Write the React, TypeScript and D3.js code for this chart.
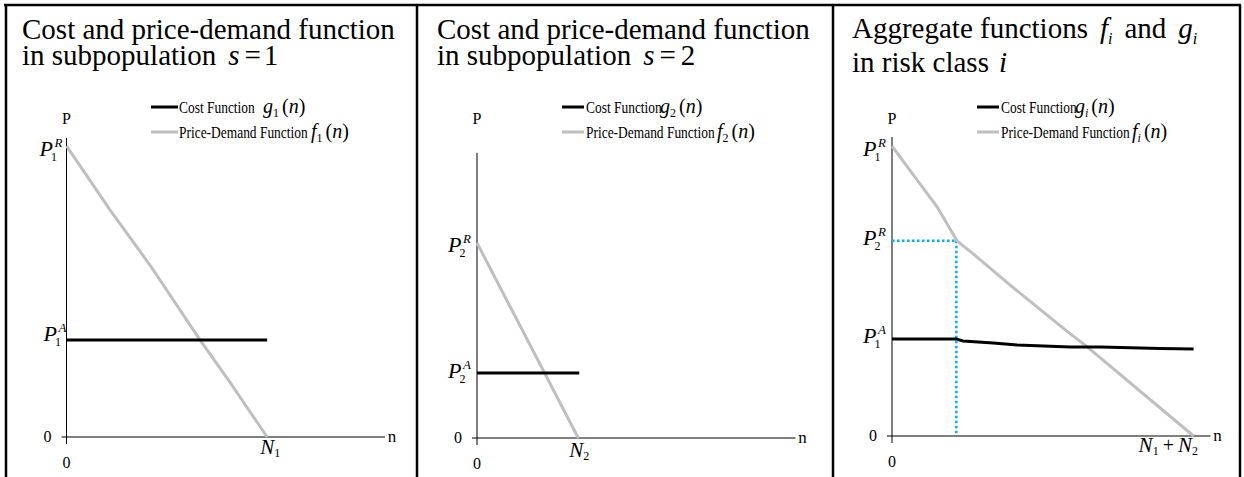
import React from 'react';
import * as d3 from 'd3';

const serif = "'Liberation Serif', 'Times New Roman', serif";

const legendNames = ['Cost Function', 'Price-Demand Function'];

// subpopulation s = 1 (n and price in % of the axis)
const demand1N = [0, 13.7, 26.2, 41.9, 51.3, 63];
const demand1P = [98, 76.4, 57.9, 32.7, 18.5, 0];
const cost1N = [0, 63];
const cost1P = [32.7, 32.7];

// subpopulation s = 2
const demand2N = [0, 31.8];
const demand2P = [65.7, 0];
const cost2N = [0, 32.1];
const cost2P = [21.9, 21.9];

// aggregate risk class i
const demandAggN = [0, 14.2, 20.4, 25.5, 37.1, 55.3, 61.3, 94.7];
const demandAggP = [97.6, 77.1, 65.7, 61.3, 50.8, 35.0, 30.0, 0];
const costAggN = [0, 20.1, 22.3, 31.8, 39.3, 56.0, 65.4, 84.3, 94.7];
const costAggP = [32.7, 32.7, 32.0, 31.3, 30.6, 30.0, 30.0, 29.5, 29.3];
const kinkN = 20.2;
const kinkP = 65.7;

const zip = (xs: number[], ys: number[]) => xs.map((x, i) => [x, ys[i]] as [number, number]);

// P with subscript and superscript, one text element
function PLabel({x, y, sub, sup}: any) {
  return (
    <text x={x} y={y} fontFamily={serif} fontSize={22}>
      <tspan fontStyle="italic">P</tspan>
      <tspan fontSize={12} dx={-2} dy={5}>{sub}</tspan>
      <tspan fontSize={13} fontStyle="italic" dx={-2.5} dy={-14}>{sup}</tspan>
    </text>
  );
}

function FnLabel({x, y, name, sub}: any) {
  return (
    <text x={x} y={y} fontFamily={serif} fontSize={20}>
      <tspan fontStyle="italic">{name}</tspan>
      <tspan fontSize={12} dy={4} fontStyle={sub === 'i' ? 'italic' : 'normal'}>{sub}</tspan>
      <tspan dy={-4} dx={3}>(</tspan>
      <tspan fontStyle="italic">n</tspan>
      <tspan>)</tspan>
    </text>
  );
}

function Panel({ox, oy, top, demand, cost, legend, labels, xLabel, children}: any) {
  const x = d3.scaleLinear().domain([0, 100]).range([ox, ox + 318.5]);
  const y = d3.scaleLinear().domain([0, 100]).range([oy, oy - 297]);
  const line = d3.line<[number, number]>().x(d => x(d[0])).y(d => y(d[1]));
  const fnSub = legend.sub;
  return (
    <g>
      {/* axes */}
      <line x1={x(0) - 5} x2={x(100)} y1={oy} y2={oy} stroke="#000" />
      <line x1={x(0)} x2={x(0)} y1={oy + 7} y2={y(top)} stroke="#000" />
      <text x={x(0)} y={124} textAnchor="middle" fontFamily={serif} fontSize={16}>P</text>
      <text x={x(100) + 7} y={oy + 5} textAnchor="middle" fontFamily={serif} fontSize={17}>n</text>
      <text x={x(0) - 19} y={oy + 5} textAnchor="middle" fontFamily={serif} fontSize={16}>0</text>
      <text x={x(0)} y={oy + 31} textAnchor="middle" fontFamily={serif} fontSize={16}>0</text>
      {children && children(x, y)}
      <path d={line(demand) || ''} fill="none" stroke="#bfbfbf" strokeWidth={3} />
      <path d={line(cost) || ''} fill="none" stroke="#000" strokeWidth={3} />
      {labels.map((l: any, i: number) => (
        <PLabel key={i} x={x(0) + l.dx} y={y(l.v) + l.dy} sub={l.sub} sup={l.sup} />
      ))}
      {xLabel(x, oy)}
      {/* legend */}
      <line x1={legend.sx} x2={legend.sx + legend.sw} y1={107} y2={107} stroke="#000" strokeWidth={3} />
      <line x1={legend.sx} x2={legend.sx + legend.sw} y1={132} y2={132} stroke="#bfbfbf" strokeWidth={3} />
      <text transform={`translate(${legend.tx},113) scale(0.84,1)`} fontFamily={serif} fontSize={16}>{legendNames[0]}</text>
      <text transform={`translate(${legend.tx},138) scale(0.84,1)`} fontFamily={serif} fontSize={16}>{legendNames[1]}</text>
      <FnLabel x={legend.gx} y={113} name="g" sub={fnSub} />
      <FnLabel x={legend.fx} y={138} name="f" sub={fnSub} />
    </g>
  );
}

export default function App() {
  return (
    <svg width={1244} height={477} style={{position: 'absolute', left: 0, top: 0, background: '#fff'}}>
      {/* frame */}
      <g stroke="#000" strokeWidth={2.5}>
        <line x1={4} x2={1241} y1={5} y2={5} />
        <line x1={6} x2={6} y1={5} y2={477} />
        <line x1={417} x2={417} y1={5} y2={477} />
        <line x1={833} x2={833} y1={5} y2={477} />
        <line x1={1240} x2={1240} y1={5} y2={477} />
      </g>

      {/* titles */}
      <g fontFamily={serif} fontSize={29}>
        <text x={22} y={39}>Cost and price-demand function</text>
        <text x={22} y={65}>in subpopulation<tspan dx={12} fontStyle="italic">s</tspan><tspan dx={5}>=</tspan><tspan dx={3}>1</tspan></text>
        <text x={437} y={39}>Cost and price-demand function</text>
        <text x={437} y={65}>in subpopulation<tspan dx={12} fontStyle="italic">s</tspan><tspan dx={5}>=</tspan><tspan dx={5}>2</tspan></text>
        <text x={852} y={38}>Aggregate functions<tspan dx={12} fontStyle="italic">f</tspan><tspan fontSize={16} dy={6} fontStyle="italic">i</tspan><tspan dx={12} dy={-6}>and</tspan><tspan dx={12} fontStyle="italic">g</tspan><tspan fontSize={16} dy={6} fontStyle="italic">i</tspan></text>
        <text x={852} y={72}>in risk class<tspan dx={10} fontStyle="italic">i</tspan></text>
      </g>

      <Panel
        ox={66.5} oy={437} top={100.7}
        demand={zip(demand1N, demand1P)} cost={zip(cost1N, cost1P)}
        legend={{sx: 151, sw: 27, tx: 179, gx: 263, fx: 311, sub: '1'}}
        labels={[
          {v: demand1P[0], dx: -27, dy: 10, sub: '1', sup: 'R'},
          {v: cost1P[0], dx: -23, dy: 1, sub: '1', sup: 'A'},
        ]}
        xLabel={(x: any, oy: number) => (
          <text x={x(demand1N[demand1N.length - 1]) - 7} y={oy + 17} fontFamily={serif} fontSize={21}>
            <tspan fontStyle="italic">N</tspan><tspan fontSize={12} dy={3}>1</tspan>
          </text>
        )}
      />

      <Panel
        ox={477} oy={438} top={96}
        demand={zip(demand2N, demand2P)} cost={zip(cost2N, cost2P)}
        legend={{sx: 562, sw: 22, tx: 586, gx: 660, fx: 717, sub: '2'}}
        labels={[
          {v: demand2P[0], dx: -29, dy: 9, sub: '2', sup: 'R'},
          {v: cost2P[0], dx: -29, dy: 5, sub: '2', sup: 'A'},
        ]}
        xLabel={(x: any, oy: number) => (
          <text x={x(demand2N[demand2N.length - 1]) - 9} y={oy + 19} fontFamily={serif} fontSize={21}>
            <tspan fontStyle="italic">N</tspan><tspan fontSize={12} dy={3}>2</tspan>
          </text>
        )}
      />

      <Panel
        ox={892} oy={436} top={100.7}
        demand={zip(demandAggN, demandAggP)} cost={zip(costAggN, costAggP)}
        legend={{sx: 977, sw: 22, tx: 1001, gx: 1075, fx: 1132, sub: 'i'}}
        labels={[
          {v: demandAggP[0], dx: -29, dy: 10, sub: '1', sup: 'R'},
          {v: kinkP, dx: -29, dy: 4, sub: '2', sup: 'R'},
          {v: costAggP[0], dx: -29, dy: 4, sub: '1', sup: 'A'},
        ]}
        xLabel={(x: any, oy: number) => (
          <text x={x(demandAggN[demandAggN.length - 1]) - 55} y={oy + 16} fontFamily={serif} fontSize={21}>
            <tspan fontStyle="italic">N</tspan><tspan fontSize={12} dy={3}>1</tspan>
            <tspan dx={4} dy={-3} fontSize={20}>+</tspan>
            <tspan dx={4} fontStyle="italic">N</tspan><tspan fontSize={12} dy={3}>2</tspan>
          </text>
        )}
      >
        {(x: any, y: any) => (
          <g stroke="#00b0f0" strokeWidth={2.5} strokeDasharray="2.5 2.5">
            <line x1={x(0)} x2={x(kinkN)} y1={y(kinkP)} y2={y(kinkP)} />
            <line x1={x(kinkN)} x2={x(kinkN)} y1={y(kinkP)} y2={y(0)} />
          </g>
        )}
      </Panel>
    </svg>
  );
}
